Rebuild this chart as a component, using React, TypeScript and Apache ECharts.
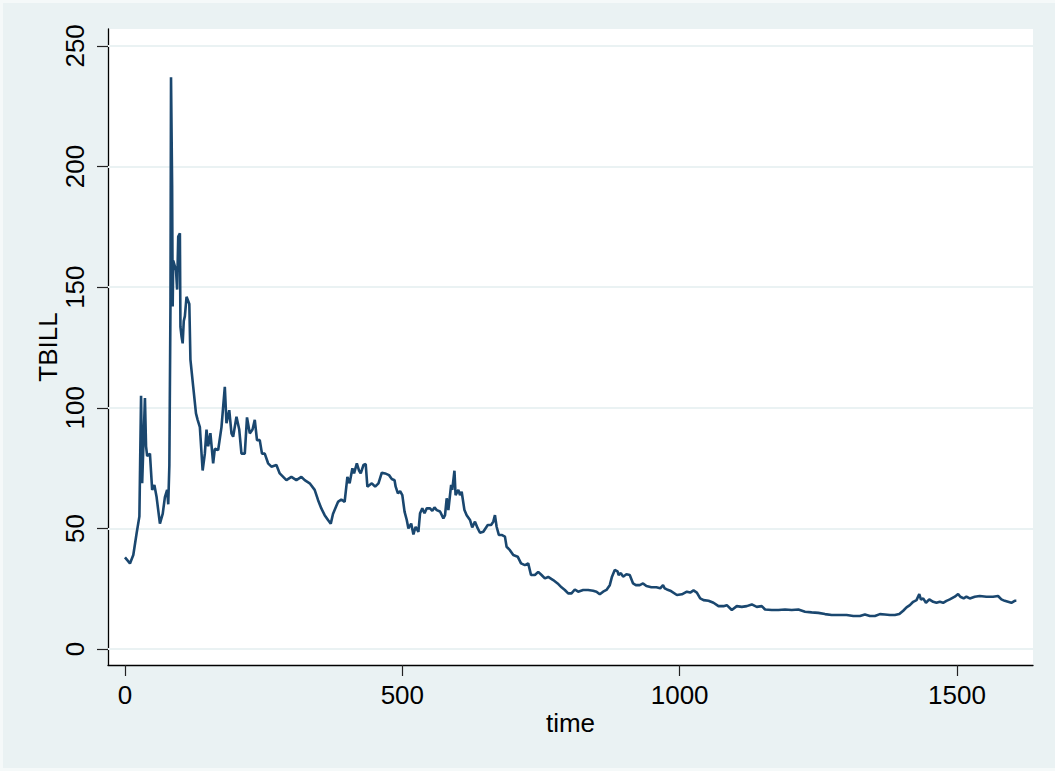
import React, { useEffect, useRef } from "react";
import * as echarts from "echarts";

// Observation index (time) and the TBILL level at that index
const time = [
  0, 9, 15, 21, 26, 29, 31, 36, 38, 40, 45, 49, 53, 57, 63, 68, 72, 76, 78, 80,
  82, 83, 85, 86, 87, 92, 94, 96, 99, 100, 102, 104, 106, 108, 111, 116, 118, 123, 128, 131,
  135, 140, 144, 147, 150, 154, 159, 162, 168, 174, 177, 180, 183, 188, 192, 195, 201, 206, 210, 216,
  220, 225, 230, 234, 238, 243, 247, 252, 258, 264, 273, 279, 291, 300, 309, 318, 324, 333, 342, 348,
  354, 360, 366, 371, 375, 384, 390,
  396, 401, 405, 410, 413, 418, 422, 425, 430, 434, 437, 445, 451, 457, 463, 469, 476, 481, 486, 488,
  492, 496, 500, 504, 508, 511, 516, 520, 524, 529, 532, 536, 540, 544, 550, 554, 558, 562, 568, 574,
  577, 580, 583, 588, 590, 594, 596, 601, 604, 607, 612, 616, 622, 626, 631, 636, 640, 646, 654, 660,
  664, 667, 670, 674, 679, 685,
  688, 694, 700, 708, 714, 721, 727, 732, 739, 745, 751, 757, 763, 772, 780, 787, 793, 799, 805, 811,
  817, 826, 835, 844, 850, 856, 862, 868, 874, 878, 883, 888, 890, 894, 898, 904, 910, 916, 921, 928,
  934, 940, 949, 958, 965, 970, 973,
  977, 983, 995, 1004, 1013, 1019, 1025, 1031, 1037, 1043, 1052, 1061, 1070, 1079, 1085, 1094, 1103, 1112, 1121, 1130,
  1139, 1148, 1154, 1166, 1178, 1190, 1202, 1214, 1226, 1238, 1250, 1262, 1274, 1286,
  1301, 1313, 1325, 1334, 1343, 1352, 1361, 1370, 1379, 1388, 1396, 1403, 1409, 1415, 1421, 1427, 1432, 1435, 1439, 1444,
  1450, 1457, 1463, 1469, 1475, 1481, 1487, 1496, 1502, 1506, 1512, 1517, 1523, 1532, 1541, 1553, 1565, 1574, 1580, 1586,
  1592, 1598, 1604, 1607,
];

const tbill = [
  38, 35.5, 39, 48, 55, 105, 68.7, 104, 84, 80, 81, 66, 68, 63, 52, 56, 63, 66, 60, 76,
  142, 237, 191.7, 142, 161, 157, 149, 171, 172.3, 133.6, 129.5, 126.7, 136, 138, 146, 143, 120, 108.8, 97.7, 95,
  92, 74, 81, 91, 84, 89.5, 77, 83, 82.5, 92, 100.4, 108.7, 93.6, 99, 89.4, 88, 96.3, 91, 81, 81,
  96, 89.4, 91, 95, 86.6, 86.6, 81, 81, 77, 75.6, 76.3, 72.8, 70, 71.4, 70, 71.4, 70, 68.7, 66, 61.8,
  58.3, 55.5, 53.5, 52, 56, 61, 62,
  61, 71.4, 68.7, 74.9, 72.8, 77, 74, 72.8, 76.3, 76.7, 67.3, 68.7, 67.3, 68.7, 73.1, 72.8, 72.1, 70.5, 70, 67.3,
  64.5, 65.5, 63.8, 57, 53.5, 50, 52, 47.5, 50.7, 48.6, 56.3, 58.3, 56.3, 58.3, 58.3, 57.3, 58.7, 57.6, 57, 54.2,
  55.5, 62.5, 57.6, 68, 66, 73.9, 63.8, 66, 63.8, 65.2, 57.6, 55.5, 53.5, 50.4, 52.8, 50, 48.2, 48.6, 51.4, 51.4,
  52.8, 55.5, 50.7, 47.3, 47.3, 46.6,
  42.4, 41, 39, 38.3, 35.5, 34.8, 35.5, 30.7, 30.7, 32, 30.7, 29.3, 29.9, 28.6, 27.2, 25.6, 24.5, 23.1, 23.1, 24.7,
  23.8, 24.5, 24.5, 24.2, 23.8, 22.7, 23.8, 24.5, 26.5, 30, 32.8, 32.2, 30.7, 31.5, 30, 31, 30.7, 27.2, 26.5, 26.5,
  27.2, 26.1, 25.6, 25.6, 25.2, 26.5, 25.2,
  24.7, 24.2, 22.4, 22.7, 23.8, 23.4, 24.3, 23.4, 21, 20.3, 20, 19.2, 17.8, 17.8, 18.2, 16.2, 17.8, 17.5, 17.8, 18.5,
  17.5, 17.8, 16.4, 16.2, 16.2, 16.4, 16.2, 16.4, 15.5, 15.2, 15, 14.5, 14.1, 14.1,
  14.1, 13.7, 13.7, 14.3, 13.7, 13.7, 14.5, 14.3, 14.1, 14.1, 14.5, 15.9, 17.3, 18.2, 19.6, 20.3, 22.8, 20.5, 21, 19.2,
  20.6, 19.6, 19.2, 19.6, 19.2, 20, 20.6, 21.7, 22.8, 21.7, 21, 21.7, 21, 21.7, 22, 21.7, 21.7, 22, 20.6, 20,
  19.6, 19.2, 20, 20,
];

const xTicks = [0, 500, 1000, 1500];
const yTicks = [0, 50, 100, 150, 200, 250];

const FONT = "'Liberation Sans', Arial, Helvetica, sans-serif";
const LINE = "#1a476f";
const OUTER = "#eaf2f3";

export default function App() {
  const ref = useRef<HTMLDivElement>(null);

  useEffect(() => {
    if (!ref.current) return;
    const chart = echarts.init(ref.current, null, { renderer: "svg" });
    chart.setOption({
      animation: false,
      backgroundColor: OUTER,
      textStyle: { fontFamily: FONT, color: "#000" },
      grid: {
        left: 105,
        top: 26,
        right: 22,
        bottom: 103,
        show: true,
        backgroundColor: "#ffffff",
        borderWidth: 0,
      },
      xAxis: {
        type: "value",
        min: -30.6,
        max: 1637,
        name: "time",
        nameLocation: "middle",
        nameGap: 45,
        nameMoveOverlap: false,
        nameTextStyle: { fontSize: 26, color: "#000", fontFamily: FONT },
        axisLine: { show: true, onZero: false, lineStyle: { color: "#000", width: 1.3 } },
        axisTick: {
          show: true,
          length: 11,
          customValues: xTicks,
          lineStyle: { color: "#222", width: 1.2 },
        },
        axisLabel: {
          customValues: xTicks,
          formatter: (v: number) => String(v),
          fontSize: 26,
          color: "#000",
          margin: 17,
          fontFamily: FONT,
        },
        splitLine: { show: false },
      },
      yAxis: {
        type: "value",
        min: -6.6,
        max: 257,
        name: "TBILL",
        nameLocation: "middle",
        nameRotate: 90,
        nameGap: 47,
        nameMoveOverlap: false,
        nameTextStyle: { fontSize: 26, color: "#000", fontFamily: FONT },
        axisLine: { show: true, onZero: false, lineStyle: { color: "#000", width: 1.3 } },
        axisTick: {
          show: true,
          length: 11,
          customValues: yTicks,
          lineStyle: { color: "#222", width: 1.2 },
        },
        axisLabel: {
          customValues: yTicks,
          formatter: (v: number) => String(v),
          rotate: 90,
          fontSize: 26,
          color: "#000",
          margin: 20,
          fontFamily: FONT,
        },
        splitLine: { show: false },
      },
      series: [
        {
          // horizontal reference lines at each y tick
          type: "line",
          data: [],
          z: 1,
          silent: true,
          markLine: {
            z: 1,
            silent: true,
            symbol: "none",
            label: { show: false },
            lineStyle: { color: OUTER, width: 2, type: "solid" },
            data: yTicks.map((v) => ({ yAxis: v })),
          },
        },
        {
          name: "TBILL",
          type: "line",
          z: 3,
          symbol: "none",
          showSymbol: false,
          lineStyle: { color: LINE, width: 2.6 },
          data: time.map((t, i) => [t, tbill[i]]),
        },
      ],
    });
    return () => chart.dispose();
  }, []);

  return (
    <div
      style={{
        position: "fixed",
        left: 0,
        top: 0,
        width: 1055,
        height: 771,
        background: "#f5f9f9",
      }}
    >
      <div
        ref={ref}
        style={{ position: "absolute", left: 3, top: 3, width: 1052, height: 765 }}
      />
    </div>
  );
}
